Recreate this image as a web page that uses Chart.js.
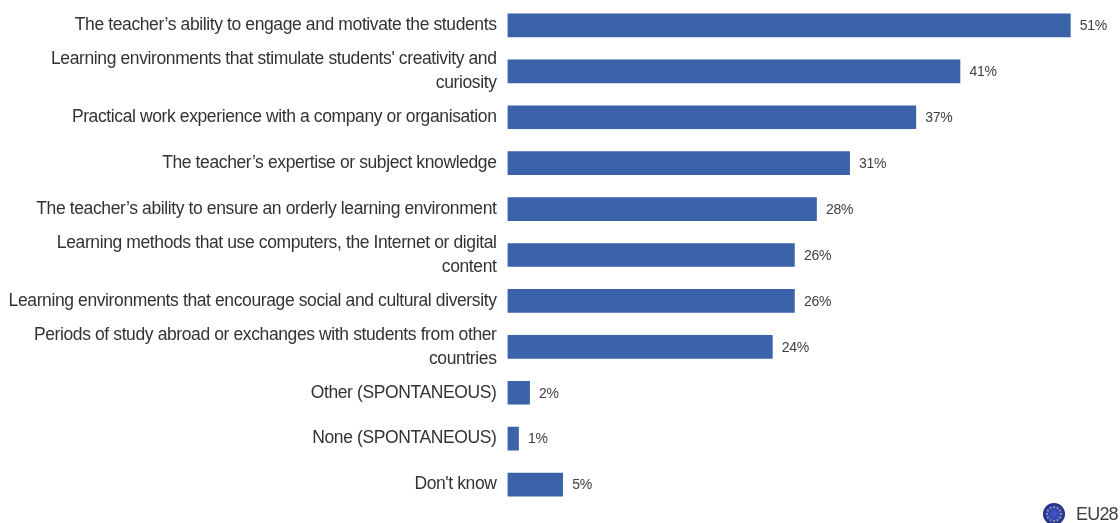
<!DOCTYPE html>
<html>
<head>
<meta charset="utf-8">
<title>Chart</title>
<style>
  html, body { margin: 0; padding: 0; background: #fff; overflow: hidden; }
  #wrap { position: relative; width: 1120px; height: 523px; }
</style>
<script src="https://cdn.jsdelivr.net/npm/chart.js@4/dist/chart.umd.js"></script>
</head>
<body>
<div id="wrap"><canvas id="myChart" role="img" aria-label="chart"></canvas></div>
<script>
const categories = [
  "The teacher’s ability to engage and motivate the students",
  ["Learning environments that stimulate students' creativity and", "curiosity"],
  "Practical work experience with a company or organisation",
  "The teacher’s expertise or subject knowledge",
  "The teacher’s ability to ensure an orderly learning environment",
  ["Learning methods that use computers, the Internet or digital", "content"],
  "Learning environments that encourage social and cultural diversity",
  ["Periods of study abroad or exchanges with students from other", "countries"],
  "Other (SPONTANEOUS)",
  "None (SPONTANEOUS)",
  "Don't know"
];
const values = [51, 41, 37, 31, 28, 26, 26, 24, 2, 1, 5];
const seriesName = "EU28";

// the reference text is squeezed sideways, tighten the tick labels to fit
const tightText = {
  id: "tightText",
  beforeDraw(chart) {
    chart.ctx.letterSpacing = "-0.39px";
  },
};

// value at the end of each bar
const valueLabels = {
  id: "valueLabels",
  afterDatasetsDraw(chart) {
    const ctx = chart.ctx;
    ctx.save();
    ctx.letterSpacing = "-0.3px";
    ctx.font = "14px 'Liberation Sans'";
    ctx.fillStyle = "#404040";
    ctx.textAlign = "left";
    ctx.textBaseline = "middle";
    chart.getDatasetMeta(0).data.forEach((bar, i) => {
      ctx.fillText(values[i] + "%", bar.x + 9.5, bar.y + 1);
    });
    ctx.restore();
  },
};

// small EU flag and series name, bottom right
const euLegend = {
  id: "euLegend",
  afterDraw(chart) {
    const ctx = chart.ctx;
    const cx = 1054, cy = 514, r = 11;
    ctx.save();
    const grad = ctx.createRadialGradient(cx, cy, 1, cx, cy, r);
    grad.addColorStop(0, "#3e50c4");
    grad.addColorStop(0.7, "#3140a8");
    grad.addColorStop(1, "#20297c");
    ctx.fillStyle = grad;
    ctx.beginPath();
    ctx.arc(cx, cy, r, 0, Math.PI * 2);
    ctx.fill();
    ctx.fillStyle = "#b5b27a";
    for (let i = 0; i < 12; i++) {
      const a = (i / 12) * Math.PI * 2;
      ctx.beginPath();
      ctx.arc(cx + Math.cos(a) * 7, cy + Math.sin(a) * 7, 0.9, 0, Math.PI * 2);
      ctx.fill();
    }
    ctx.letterSpacing = "-0.8px";
    ctx.font = "18px 'Liberation Sans'";
    ctx.fillStyle = "#404040";
    ctx.textAlign = "left";
    ctx.textBaseline = "middle";
    ctx.fillText(seriesName, 1076, 515);
    ctx.restore();
  },
};

Chart.defaults.animation = false;

const myChart = new Chart(document.getElementById("myChart"), {
  type: "bar",
  data: {
    labels: categories,
    datasets: [
      {
        label: seriesName,
        data: values,
        backgroundColor: "#3a63aa",
        barThickness: 23,
      },
    ],
  },
  options: {
    indexAxis: "y",
    responsive: true,
    maintainAspectRatio: false,
    layout: { padding: { top: 2.5, bottom: 15.5, left: 0, right: 0 } },
    plugins: {
      legend: { display: false },
      tooltip: { enabled: false },
    },
    scales: {
      x: {
        display: false,
        min: 0,
        max: 55.5,
      },
      y: {
        afterFit(axis) {
          axis.width = 507.5;
          axis.paddingTop = 0;
          axis.paddingBottom = 0;
        },
        grid: { display: false, drawTicks: false },
        border: { display: false },
        ticks: {
          autoSkip: false,
          padding: 11,
          color: "#333333",
          font: { family: "'Liberation Sans'", size: 17.5, lineHeight: 1.37 },
        },
      },
    },
  },
  plugins: [tightText, valueLabels, euLegend],
});
</script>
</body>
</html>
